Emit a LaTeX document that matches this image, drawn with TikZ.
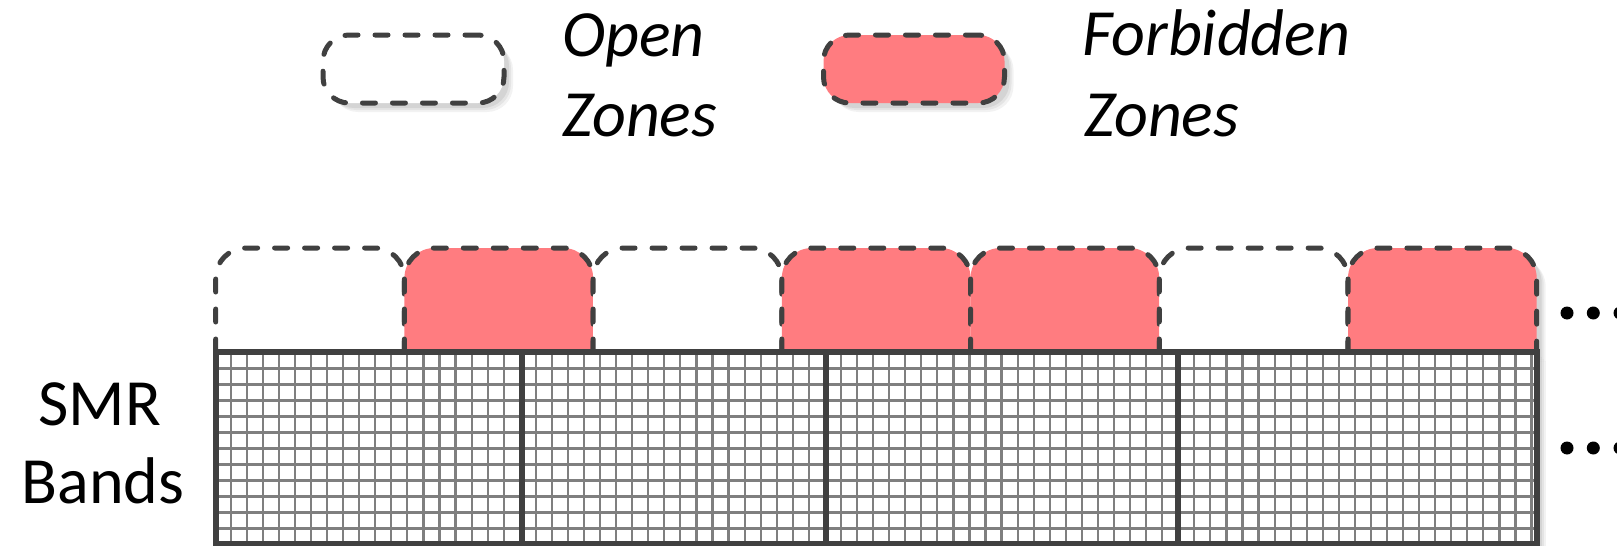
\documentclass[tikz,border=0pt]{standalone}
\usepackage{fontspec}
\setmainfont{Carlito}
\usetikzlibrary{shadows}
\definecolor{zonered}{HTML}{FF7C80}
\definecolor{edgegray}{HTML}{404040}
\definecolor{gridgray}{HTML}{7F7F7F}
\tikzset{
  softshadow/.style={
    drop shadow={shadow xshift=9pt,shadow yshift=-9pt,opacity=.05,fill=black},
    drop shadow={shadow xshift=7pt,shadow yshift=-7pt,opacity=.06,fill=black},
    drop shadow={shadow xshift=5pt,shadow yshift=-5pt,opacity=.07,fill=black}},
  zoneedge/.style={draw=edgegray, line width=5pt, dash pattern=on 13pt off 17pt, line cap=round},
  legshape/.style={rectangle, rounded corners=26pt, minimum width=181pt, minimum height=68pt, inner sep=0pt, zoneedge, softshadow},
  txt/.style={font=\fontsize{66}{80}\selectfont, inner sep=0pt},
  itxt/.style={font=\fontsize{66}{80}\selectfont\itshape, inner sep=0pt},
  gridline/.style={draw=gridgray, line width=2.2pt},
  bandedge/.style={draw=edgegray, line width=6pt},
  ellipsisdot/.style={fill=black}
}
\begin{document}
\begin{tikzpicture}[x=1pt,y=-1pt]
\useasboundingbox (0,0) rectangle (1617,546);
% legend
\node[legshape, fill=white] (legOpen) at (413.5,69) {};
\node[itxt, anchor=base west] (openA) at (562,56) {Open};
\node[itxt, anchor=base west] (openB) at (562,136) {Zones};
\node[legshape, fill=zonered] (legForb) at (914,69) {};
\node[itxt, anchor=base west] (forbA) at (1082,55) {Forbidden};
\node[itxt, anchor=base west] (forbB) at (1084,136) {Zones};
% zones
\foreach \i/\col in {0/white,1/zonered,2/white,3/zonered,4/zonered,5/white} {
  \pgfmathsetmacro\xa{215.7+188.71*\i}
  \pgfmathsetmacro\xb{\xa+188.71}
  \path[zoneedge, fill=\col, rounded corners=30pt] (\xa,352) -- (\xa,248) -- (\xb,248) -- (\xb,352);
}
\path[zoneedge, fill=zonered, softshadow, rounded corners=30pt] (1348,352) -- (1348,248) -- (1536.7,248) -- (1536.7,352);
% bands
\fill[white, softshadow] (215.7,352) rectangle (1536.7,544);
\foreach \k in {0,...,81} \draw[gridline] ({230.7+16.06*\k},352) -- ({230.7+16.06*\k},544);
\foreach \k in {0,...,10} \draw[gridline] (215.7,{368.5+16*\k}) -- (1536.7,{368.5+16*\k});
\draw[bandedge] (215.7,352) rectangle (1536.7,544);
\foreach \x in {521.7,826,1178.3} \draw[bandedge] (\x,352) -- (\x,544);
\node[txt, anchor=base] (smrA) at (100,425) {SMR};
\node[txt, anchor=base] (smrB) at (103,503) {Bands};
% dots
\foreach \y in {313,448} \foreach \x in {1567,1593.3,1620} \fill[ellipsisdot] (\x,\y) circle[radius=6.5];
\end{tikzpicture}
\end{document}
